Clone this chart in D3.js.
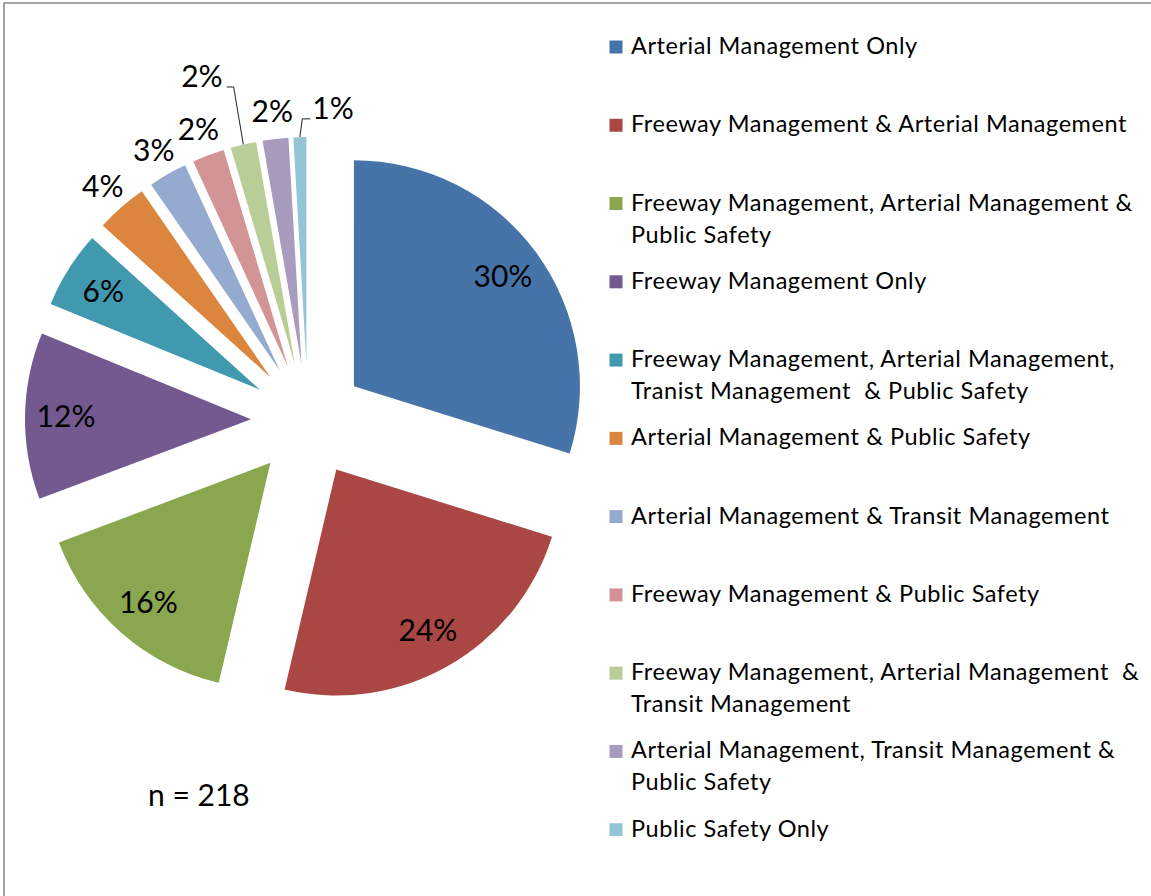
<!DOCTYPE html>
<html>
<head>
<meta charset="utf-8">
<script src="https://cdn.jsdelivr.net/npm/d3@7"></script>
<style>
  body { margin: 0; background: #fff; }
  text { font-family: Lato, "Open Sans", sans-serif; fill: #000; white-space: pre; }
</style>
</head>
<body>
<svg id="chart" width="1151" height="896"></svg>
<script>
// Survey responses by management function (n = 218)
const categories = [
  "Arterial Management Only",
  "Freeway Management & Arterial Management",
  "Freeway Management, Arterial Management &\nPublic Safety",
  "Freeway Management Only",
  "Freeway Management, Arterial Management,\nTranist Management  & Public Safety",
  "Arterial Management & Public Safety",
  "Arterial Management & Transit Management",
  "Freeway Management & Public Safety",
  "Freeway Management, Arterial Management  &\nTransit Management",
  "Arterial Management, Transit Management &\nPublic Safety",
  "Public Safety Only"
];
const counts = [65, 52, 34, 26, 12, 8, 6, 5, 4, 4, 2];
const totalResponses = 218;

// Slice palette
const colors = [
  "#4674A9", "#AA4744", "#8AA64F", "#72598F", "#4199B0", "#DB853E",
  "#94AACF", "#D29494", "#B9CE97", "#A99BBE", "#93C5D6"
];

// Small labels that are moved off their default spot and joined by a leader line
const labelNudge = { 8: [-35, -41], 10: [34, -1] };

const W = 1151, H = 896;
const svg = d3.select("#chart");

svg.append("rect").attr("width", W).attr("height", H).attr("fill", "#fff");
// chart-area frame (top and left edges)
svg.append("path")
  .attr("d", `M4,${H} V3 H${W}`)
  .attr("fill", "none")
  .attr("stroke", "#878787")
  .attr("stroke-width", 1.5);

// ---- exploded pie ----
const cx = 308, cy = 420, R = 226, explode = 57;
const pie = d3.pie().sort(null).value(d => d);
const arcs = pie(counts);
const arc = d3.arc().innerRadius(0).outerRadius(R);
const mid = a => (a.startAngle + a.endAngle) / 2;
const polar = (a, r) => [r * Math.sin(mid(a)), -r * Math.cos(mid(a))];
const pct = v => Math.round(v / totalResponses * 100) + "%";

const g = svg.append("g").attr("transform", `translate(${cx},${cy})`);

g.selectAll("path.slice")
  .data(arcs)
  .join("path")
  .attr("class", "slice")
  .attr("transform", d => { const [x, y] = polar(d, explode); return `translate(${x},${y})`; })
  .attr("d", arc)
  .attr("fill", (d, i) => colors[i]);

// ---- data labels ----
const labelSize = 30, capHalf = labelSize * 0.716 / 2;
const labels = g.append("g");
arcs.forEach((a, i) => {
  const inside = a.value / totalResponses >= 0.05;
  const [ox, oy] = polar(a, explode);
  const [lx, ly] = polar(a, inside ? 185 : 254);
  let x = ox + lx, y = oy + ly;
  const nudge = labelNudge[i];
  if (nudge) { x += nudge[0]; y += nudge[1]; }
  const t = labels.append("text")
    .attr("x", x)
    .attr("y", y + capHalf)
    .attr("text-anchor", "middle")
    .attr("font-size", labelSize)
    .text(pct(a.value));
  if (nudge) {
    const w = t.node().getComputedTextLength();
    const [ex, ey] = polar(a, R);
    const edge = [ox + ex, oy + ey];
    const lineY = y + capHalf;
    let pts;
    if (x < edge[0]) {
      const right = x + w / 2;
      pts = [edge, [right + 11, lineY], [right + 4, lineY]];
    } else {
      const left = x - w / 2;
      pts = [edge, [left - 10, lineY], [left - 2, lineY]];
    }
    labels.append("path")
      .attr("d", d3.line()(pts))
      .attr("fill", "none")
      .attr("stroke", "#222")
      .attr("stroke-width", 1);
  }
});

// ---- legend ----
const rowY = d3.scalePoint().domain(categories).range([54, 836.7]);
const legend = svg.append("g");
categories.forEach((c, i) => {
  const base = rowY(c);
  legend.append("rect")
    .attr("x", 609.5).attr("y", base - 13.5)
    .attr("width", 13).attr("height", 13)
    .attr("fill", colors[i]);
  const t = legend.append("text")
    .attr("font-size", 23.5)
    .attr("letter-spacing", 0.55);
  c.split("\n").forEach((line, j) => {
    t.append("tspan").attr("x", 631).attr("y", base + j * 32).text(line);
  });
});

// ---- sample size note ----
svg.append("text")
  .attr("x", 148).attr("y", 806)
  .attr("font-size", 30)
  .text("n = " + totalResponses);
</script>
</body>
</html>
